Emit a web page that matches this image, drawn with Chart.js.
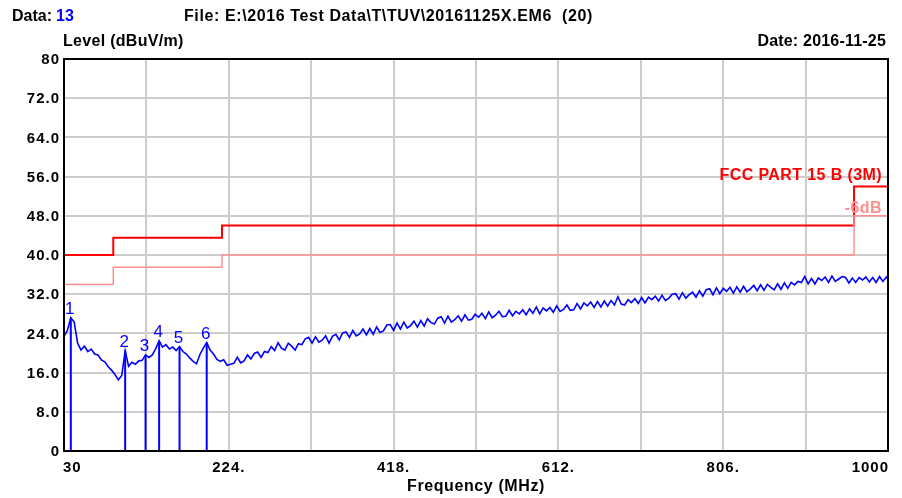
<!DOCTYPE html>
<html>
<head>
<meta charset="utf-8">
<title>Radiated Emission Scan</title>
<script src="https://cdn.jsdelivr.net/npm/chart.js@4.4.1/dist/chart.umd.min.js"></script>
<style>
    html, body { margin: 0; padding: 0; background: #ffffff; }
    #scan-wrap { width: 902px; height: 498px; position: relative; }
</style>
</head>
<body>
<div id="scan-wrap">
    <canvas id="scan-chart" width="902" height="498"></canvas>
</div>
<script>
// Sweep grid of the measured trace (MHz)
const TRACE_START = 30;
const TRACE_STEP = 4;

// Measured level, dBuV/m (one row = 40 MHz)
const traceLevels = [
    23.4, 24.6, 27.2, 26.3, 22.0, 20.6, 21.4, 20.3, 20.8, 19.8,
    19.6, 18.6, 18.2, 17.2, 16.5, 15.6, 14.5, 15.4, 20.5, 17.3,
    18.1, 17.7, 18.4, 18.5, 19.6, 19.1, 19.6, 20.9, 22.5, 21.2,
    21.7, 20.8, 21.2, 20.5, 21.3, 20.3, 19.8, 19.0, 18.3, 17.8,
    19.7, 21.0, 22.1, 20.6, 19.8, 18.7, 18.3, 18.6, 17.5, 17.7,
    17.9, 19.1, 18.0, 18.4, 19.6, 18.8, 19.9, 20.2, 19.1, 20.3,
    20.1, 21.3, 20.5, 22.1, 21.0, 20.6, 22.0, 21.4, 20.6, 21.9,
    21.7, 22.9, 23.2, 22.0, 23.3, 22.2, 22.6, 23.5, 22.0, 23.4,
    23.8, 22.7, 24.1, 24.3, 23.2, 24.6, 23.5, 23.9, 24.9, 23.7,
    25.0, 23.8, 25.3, 24.2, 24.5, 25.7, 25.8, 24.6, 26.1, 24.9,
    26.3, 25.1, 25.6, 26.5, 25.3, 26.6, 25.5, 27.0, 26.2, 25.9,
    27.1, 27.4, 26.1, 27.5, 26.3, 26.8, 27.6, 26.5, 27.8, 26.7,
    26.9, 27.9, 27.3, 28.1, 27.0, 28.4, 27.2, 27.7, 28.5, 27.4,
    27.5, 28.7, 27.6, 28.5, 28.0, 28.8, 27.8, 29.0, 28.1, 29.4,
    28.0, 29.2, 28.6, 29.3, 28.3, 29.6, 28.5, 28.9, 29.8, 28.7,
    28.8, 30.1, 29.0, 30.2, 29.6, 30.4, 29.3, 30.5, 29.4, 30.6,
    29.6, 30.7, 29.8, 31.5, 30.0, 29.8, 30.9, 30.3, 31.1, 30.1,
    31.3, 30.2, 31.4, 30.9, 31.6, 30.6, 31.8, 30.7, 31.2, 32.0,
    32.1, 31.0, 32.3, 31.2, 31.9, 32.4, 31.4, 32.7, 31.6, 32.9,
    33.1, 31.9, 33.3, 32.1, 33.2, 32.6, 33.4, 32.2, 33.5, 32.4,
    33.6, 32.5, 33.1, 33.8, 32.7, 33.9, 32.8, 34.0, 33.4, 32.9,
    34.1, 33.0, 34.3, 33.2, 34.4, 33.9, 34.6, 34.4, 35.6, 34.1,
    35.2, 34.1, 35.3, 34.8, 35.5, 34.4, 35.7, 34.6, 35.1, 35.6,
    35.4, 34.3, 35.3, 34.4, 35.4, 34.9, 35.5, 34.5, 35.4, 34.4,
    35.6, 34.6, 35.5, 35.0
];

// FCC Part 15 B (3 m) limit and the -6 dB margin line
const limitFreqs = [30, 88, 88, 216, 216, 960, 960, 1000];
const limitLevels = [40, 40, 43.5, 43.5, 46, 46, 54, 54];
const marginLevels = [34, 34, 37.5, 37.5, 40, 40, 48, 48];

// Peak markers
const markerNames = ['1', '2', '3', '4', '5', '6'];
const markerFreqs = [38, 102, 126, 142, 166, 198];
const markerLevels = [27.2, 20.5, 19.6, 22.5, 21.3, 22.1];

// Axes
const xGridFreqs = [30, 127, 224, 321, 418, 515, 612, 709, 806, 903, 1000];
const xTickValues = [30, 224, 418, 612, 806, 1000];
const xTickLabels = ['30', '224.', '418.', '612.', '806.', '1000'];
const yTickValues = [0, 8, 16, 24, 32, 40, 48, 56, 64, 72, 80];
const yTickLabels = ['0', '8.0', '16.0', '24.0', '32.0', '40.0', '48.0', '56.0', '64.0', '72.0', '80'];

const FONT = '"Liberation Sans", Arial, sans-serif';
const BLUE = '#0000ff';
const RED = '#ff0000';
const PINK = '#ff9090';

function tracePoints() {
    return traceLevels.map((v, i) => ({ x: Math.min(TRACE_START + i * TRACE_STEP, 1000), y: v }));
}

function stepPoints(levels) {
    return limitFreqs.map((f, i) => ({ x: f, y: levels[i] }));
}

// Each marker is a vertical segment from 0 up to its level; NaN breaks the path
function markerPoints() {
    const pts = [];
    markerFreqs.forEach((f, i) => {
        pts.push({ x: f, y: 0 }, { x: f, y: markerLevels[i] }, { x: f, y: NaN });
    });
    return pts;
}

function drawText(ctx, text, x, y, opts) {
    ctx.save();
    ctx.font = opts.font;
    ctx.fillStyle = opts.color || '#000000';
    ctx.textAlign = opts.align || 'left';
    ctx.textBaseline = opts.baseline || 'alphabetic';
    if ('letterSpacing' in ctx) ctx.letterSpacing = opts.spacing || '0px';
    ctx.fillText(text, x, y);
    ctx.restore();
}

/**
 * Frame, tick labels, header texts and marker numbers.
 */
const scanDecor = {
    id: 'scanDecor',
    afterDraw(chart) {
        const { ctx, chartArea: a, scales } = chart;
        const xs = scales.x, ys = scales.y;
        const tickFont = 'bold 15px ' + FONT;
        const headFont = 'bold 16px ' + FONT;

        ctx.save();
        ctx.strokeStyle = '#000000';
        ctx.lineWidth = 2;
        ctx.strokeRect(a.left, a.top, a.right - a.left, a.bottom - a.top);
        ctx.restore();

        yTickValues.forEach((v, i) => {
            drawText(ctx, yTickLabels[i], a.left - 4, ys.getPixelForValue(v) + 1,
                { font: tickFont, align: 'right', baseline: 'middle', spacing: '1px' });
        });

        xTickValues.forEach((v, i) => {
            let align = 'center';
            if (i === 0) align = 'left';
            if (i === xTickValues.length - 1) align = 'right';
            const x = align === 'left' ? a.left - 1 : (align === 'right' ? a.right + 1 : xs.getPixelForValue(v));
            drawText(ctx, xTickLabels[i], x, a.bottom + 21,
                { font: tickFont, align: align, spacing: '1px' });
        });

        drawText(ctx, 'Frequency (MHz)', (a.left + a.right) / 2, 491,
            { font: headFont, align: 'center', spacing: '0.6px' });
        drawText(ctx, 'Level (dBuV/m)', 63, 46, { font: headFont, spacing: '0.3px' });
        drawText(ctx, 'Date: 2016-11-25', 886, 46, { font: headFont, align: 'right', spacing: '0.2px' });
        drawText(ctx, 'Data: ', 12, 21, { font: headFont });
        drawText(ctx, '13', 56, 21, { font: headFont, color: BLUE });
        drawText(ctx, 'File: E:\\2016 Test Data\\T\\TUV\\20161125X.EM6  (20)', 184, 21,
            { font: headFont, spacing: '0.6px' });

        drawText(ctx, 'FCC PART 15 B (3M)', 882, ys.getPixelForValue(54) - 6,
            { font: headFont, color: RED, align: 'right', spacing: '0.4px' });
        drawText(ctx, '-6dB', 882, ys.getPixelForValue(48) - 3,
            { font: headFont, color: PINK, align: 'right', spacing: '0.4px' });

        markerFreqs.forEach((f, i) => {
            drawText(ctx, markerNames[i], xs.getPixelForValue(f) - 1, ys.getPixelForValue(markerLevels[i]) - 4,
                { font: '17px ' + FONT, color: BLUE, align: 'center' });
        });
    }
};

new Chart(document.getElementById('scan-chart'), {
    type: 'line',
    data: {
        datasets: [
            { data: stepPoints(marginLevels), borderColor: PINK, borderWidth: 1.5, pointRadius: 0 },
            { data: stepPoints(limitLevels), borderColor: RED, borderWidth: 2, pointRadius: 0 },
            { data: tracePoints(), borderColor: BLUE, borderWidth: 1.6, pointRadius: 0 },
            { data: markerPoints(), borderColor: BLUE, borderWidth: 2, pointRadius: 0, spanGaps: false }
        ]
    },
    options: {
        responsive: false,
        animation: false,
        devicePixelRatio: 1,
        parsing: false,
        layout: { padding: { left: 64, right: 14, top: 59, bottom: 47 } },
        plugins: { legend: { display: false }, tooltip: { enabled: false } },
        elements: { line: { tension: 0 } },
        scales: {
            x: {
                type: 'linear',
                min: 30,
                max: 1000,
                afterBuildTicks: scale => { scale.ticks = xGridFreqs.map(v => ({ value: v })); },
                afterFit: scale => { scale.height = 0; },
                ticks: { display: false },
                border: { display: false },
                grid: { color: '#cccccc', lineWidth: 2, drawTicks: false }
            },
            y: {
                min: 0,
                max: 80,
                afterBuildTicks: scale => { scale.ticks = yTickValues.map(v => ({ value: v })); },
                afterFit: scale => { scale.width = 0; },
                ticks: { display: false },
                border: { display: false },
                grid: { color: '#cccccc', lineWidth: 2, drawTicks: false }
            }
        }
    },
    plugins: [scanDecor]
});
</script>
</body>
</html>
